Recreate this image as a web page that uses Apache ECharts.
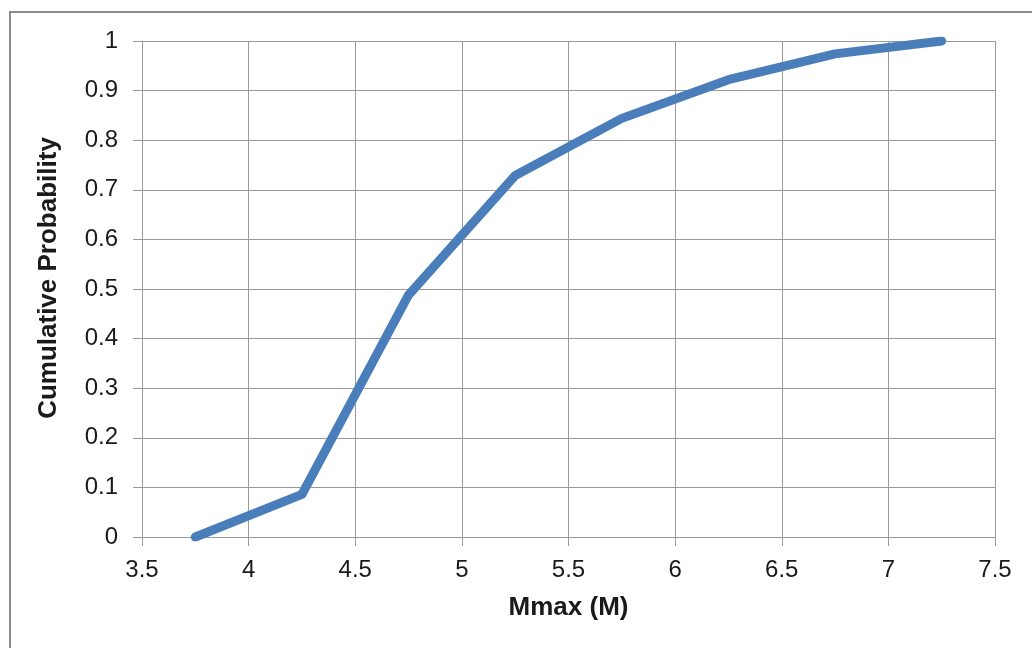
<!DOCTYPE html>
<html>
<head>
<meta charset="utf-8">
<script src="https://cdn.jsdelivr.net/npm/echarts@6/dist/echarts.min.js"></script>
<style>
  html, body { margin: 0; padding: 0; background: #fff; overflow: hidden; }
  #frame {
    position: absolute; left: 9px; top: 11px; width: 1100px; height: 700px;
    border-left: 2px solid #8a8a8a; border-top: 2px solid #8a8a8a;
    box-sizing: border-box; pointer-events: none;
  }
  #chart { position: absolute; left: 0; top: 0; width: 1032px; height: 648px; }
</style>
</head>
<body>
<div id="frame"></div>
<div id="chart"></div>
<script>
// Magnitude bins (M) and cumulative probability of Mmax
const magnitudes = [3.75, 4.25, 4.75, 5.25, 5.75, 6.25, 6.75, 7.25];
const cumulativeProb = [0, 0.086, 0.488, 0.729, 0.844, 0.922, 0.974, 1.0];

const xTicks = { min: 3.5, max: 7.5, step: 0.5 };
const yTicks = { min: 0, max: 1, step: 0.1 };

const points = magnitudes.map((m, i) => [m, cumulativeProb[i]]);

const gridLine = { color: '#9a9a9a', width: 1 };
const labelFont = { fontFamily: 'Liberation Sans, Arial, sans-serif', fontSize: 24, color: '#1a1a1a' };
const titleFont = { fontFamily: 'Liberation Sans, Arial, sans-serif', fontSize: 26, fontWeight: 'bold', color: '#1a1a1a' };

const chart = echarts.init(document.getElementById('chart'), null, { renderer: 'canvas' });
chart.setOption({
  animation: false,
  backgroundColor: 'transparent',
  grid: { left: 142, right: 37, top: 41, bottom: 111, containLabel: false },
  xAxis: {
    type: 'value',
    min: xTicks.min, max: xTicks.max, interval: xTicks.step,
    name: 'Mmax (M)',
    nameLocation: 'middle',
    nameGap: 58,
    nameTextStyle: titleFont,
    axisLine: { show: true, lineStyle: gridLine },
    axisTick: { show: true, length: 9, lineStyle: gridLine },
    axisLabel: Object.assign({ margin: 21 }, labelFont),
    splitLine: { show: true, lineStyle: gridLine }
  },
  yAxis: {
    type: 'value',
    min: yTicks.min, max: yTicks.max, interval: yTicks.step,
    name: 'Cumulative Probability',
    nameLocation: 'middle',
    nameRotate: 90,
    nameGap: 80,
    // left padding nudges the rotated title slightly upward
    nameTextStyle: Object.assign({ padding: [0, 0, 0, 22] }, titleFont),
    axisLine: { show: true, lineStyle: gridLine },
    axisTick: { show: true, length: 9, lineStyle: gridLine },
    axisLabel: Object.assign({ margin: 24 }, labelFont),
    splitLine: { show: true, lineStyle: gridLine }
  },
  series: [{
    type: 'line',
    data: points,
    showSymbol: false,
    lineStyle: { color: '#4a7ebb', width: 9, cap: 'round', join: 'round' },
    itemStyle: { color: '#4a7ebb' }
  }]
});
</script>
</body>
</html>
